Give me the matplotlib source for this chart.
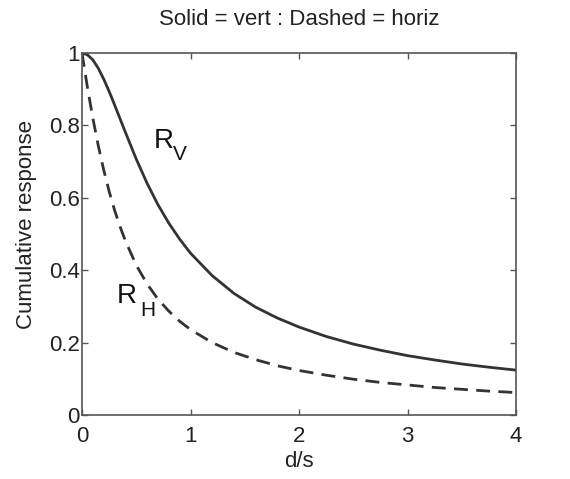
import matplotlib
matplotlib.use("Agg")
import matplotlib.pyplot as plt

plt.rcParams['font.family'] = ['Liberation Sans', 'DejaVu Sans']

# values
d_over_s = [0, 0.05, 0.1, 0.15, 0.2, 0.25, 0.3, 0.35, 0.4, 0.5, 0.6, 0.7, 0.8, 0.9,
            1.0, 1.2, 1.4, 1.6, 1.8, 2.0, 2.25, 2.5, 2.75, 3.0, 3.25, 3.5, 3.75, 4.0]
r_vert = [1.0, 0.995, 0.981, 0.958, 0.928, 0.894, 0.857, 0.819, 0.781, 0.707, 0.640,
          0.581, 0.530, 0.486, 0.447, 0.385, 0.336, 0.298, 0.268, 0.243, 0.217,
          0.196, 0.179, 0.164, 0.152, 0.141, 0.132, 0.124]
r_horiz = [1.0, 0.905, 0.820, 0.744, 0.677, 0.618, 0.566, 0.521, 0.481, 0.414, 0.362,
           0.320, 0.287, 0.259, 0.236, 0.200, 0.173, 0.153, 0.136, 0.123, 0.110,
           0.099, 0.090, 0.083, 0.076, 0.071, 0.066, 0.062]

fig = plt.figure(figsize=(5.70, 4.79), dpi=100)
ax = fig.add_axes([82 / 570, 1 - 415 / 479, 434 / 570, 362 / 479])

ax.plot(d_over_s, r_vert, color='#333333', lw=2.0)
ax.plot(d_over_s, r_horiz, color='#333333', lw=2.0, ls=(0, (5, 3)))

# curve labels: big R with a lowered subscript letter
ax.text(0.66, 0.738, 'R', fontsize=20, va='baseline', color='#111111')
ax.text(0.84, 0.704, 'V', fontsize=15, va='baseline', color='#111111')
ax.text(0.32, 0.309, 'R', fontsize=20, va='baseline', color='#111111')
ax.text(0.54, 0.273, 'H', fontsize=15, va='baseline', color='#111111')

ax.set_xlim(0, 4)
ax.set_ylim(0, 1)
ax.set_xticks([0, 1, 2, 3, 4])
ax.set_yticks([0, 0.2, 0.4, 0.6, 0.8, 1])
ax.set_yticklabels(['0', '0.2', '0.4', '0.6', '0.8', '1'])
ax.tick_params(direction='in', top=True, right=True, labelsize=16, length=4,
               color='#555555', width=1, labelcolor='#222222')
ax.tick_params(axis='x', pad=8)
ax.tick_params(axis='y', pad=1.5)
for sp in ax.spines.values():
    sp.set_color('#555555')
    sp.set_linewidth(1.2)

ax.set_xlabel('d/s', fontsize=16, color='#222222', labelpad=3)
ax.set_ylabel('Cumulative response', fontsize=16, color='#222222', labelpad=9)
ax.yaxis.label.set_y(0.525)
ax.set_title('Solid = vert : Dashed = horiz', fontsize=16, color='#222222', pad=20)

fig.savefig('out.png', dpi=100)
